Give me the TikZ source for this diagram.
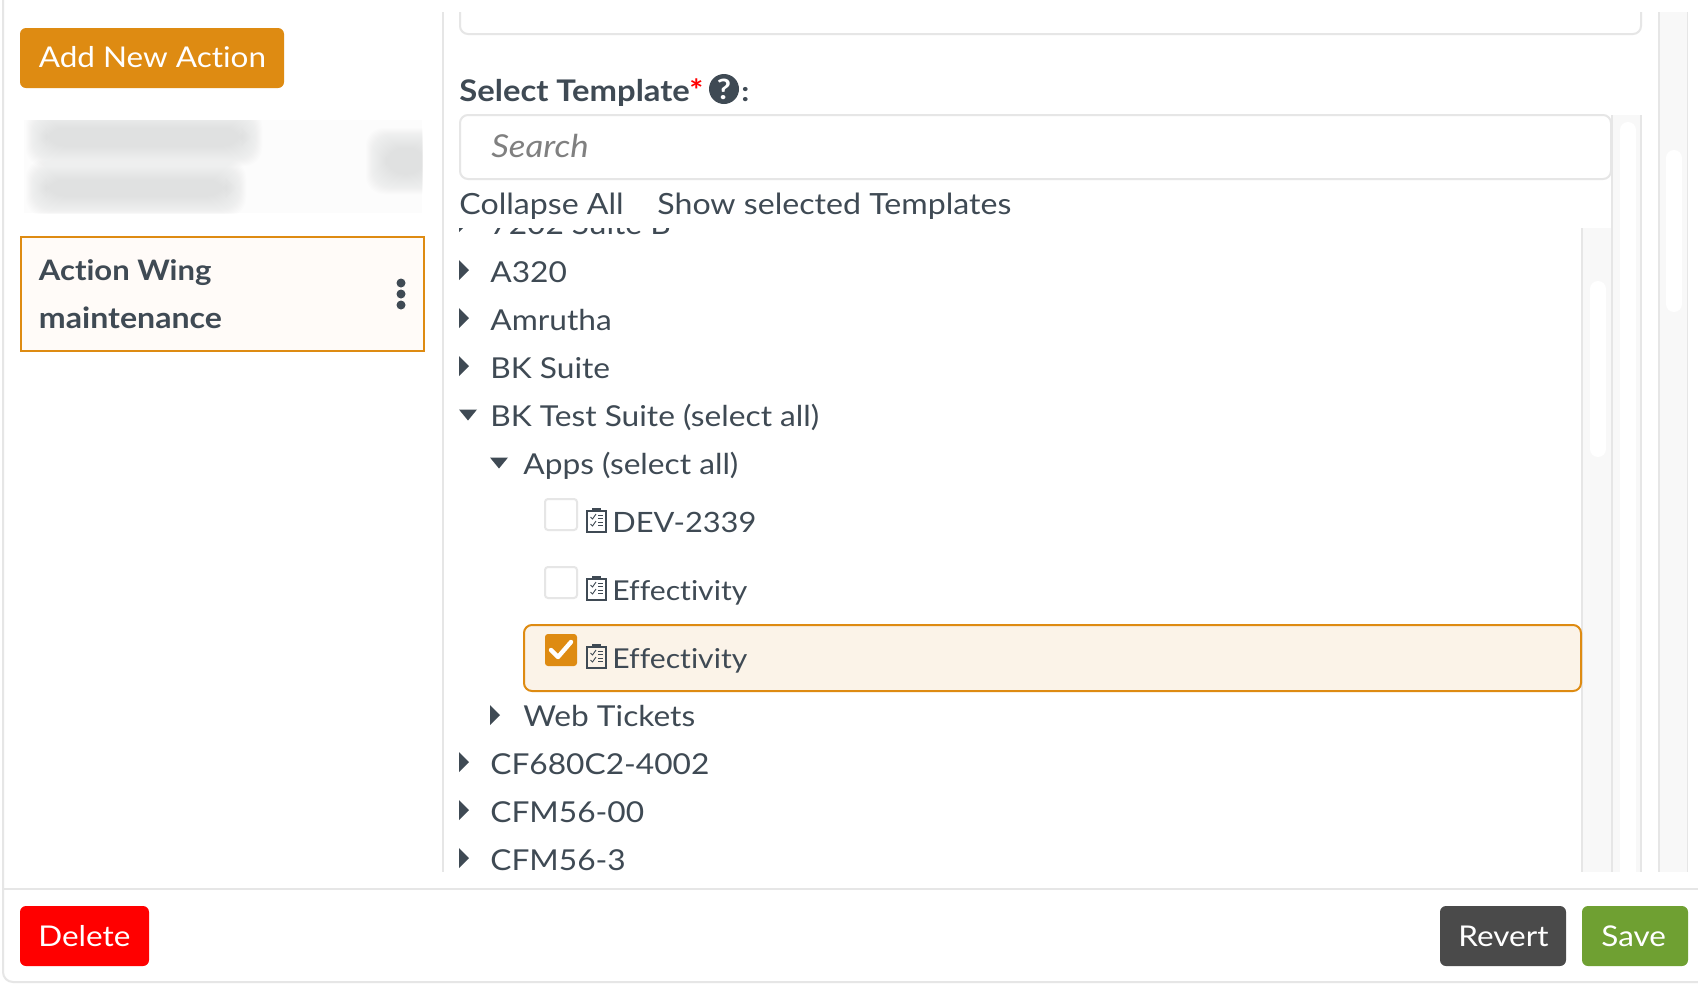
\documentclass[tikz,border=0pt]{standalone}
\usepackage{fontspec}
\setmainfont{Lato}[FakeStretch=1.10,Ligatures=NoCommon]
\usetikzlibrary{positioning}
\definecolor{inkgrey}{HTML}{3F4A54}
\definecolor{amber}{HTML}{DE8B12}
\definecolor{rulegrey}{HTML}{E6E6E6}
\definecolor{trackgrey}{HTML}{F8F8F8}
\definecolor{paleamber}{HTML}{FBF3E8}
\definecolor{palecard}{HTML}{FFFBF8}
\definecolor{revertgrey}{HTML}{4A4A4A}
\definecolor{savegreen}{HTML}{6FA032}
\definecolor{blurgrey}{HTML}{DCDEDE}
\tikzset{
  uitext/.style={anchor=base west,inner sep=0pt,text=inkgrey,font=\fontsize{14.4}{16}\selectfont},
  boldtext/.style={uitext,font=\fontsize{14.1}{16}\selectfont\bfseries},
  btntext/.style={uitext,text=white,font=\fontsize{14.3}{16}\selectfont},
  btnbox/.style={rounded corners=3pt},
  rule/.style={draw=rulegrey,line width=1pt},
  track/.style={fill=trackgrey},
  thumb/.style={fill=white,rounded corners=4pt},
  checkbox/.style={draw=rulegrey,line width=1pt,rounded corners=1.5pt,fill=white},
}
% one row of the tree: arrow drawn separately
\newcommand{\arrowright}[2]{\fill[inkgrey] (#1,#2-10) -- (#1+10,#2) -- (#1,#2+10) -- cycle;}
\newcommand{\arrowdown}[2]{\fill[inkgrey] (#1,#2-5.5) -- (#1+18,#2-5.5) -- (#1+9,#2+5.5) -- cycle;}
% clipboard icon
\newcommand{\clipicon}[2]{
  \draw[inkgrey,line width=0.6pt] (#1,#2+3) rectangle (#1+19,#2+24);
  \fill[inkgrey] (#1+5,#2) rectangle (#1+14,#2+3.5);
  \foreach \iy in {9,16}{
    \draw[inkgrey,line width=0.45pt] (#1+3.5,#2+\iy) -- (#1+5.5,#2+\iy+2) -- (#1+9,#2+\iy-3);
    \draw[inkgrey,line width=0.45pt] (#1+11,#2+\iy-2) -- (#1+16,#2+\iy-2) (#1+11,#2+\iy+1) -- (#1+16,#2+\iy+1);
  }
}
% soft blob for the blurred entry
\newcommand{\blurblob}[4]{
  \foreach \i in {0,...,20}{
    \fill[blurgrey,opacity=0.05,rounded corners=9pt] (#1+\i,#2+\i) rectangle (#3-\i,#4-\i);
  }
}
\begin{document}
\begin{tikzpicture}[x=0.5pt,y=-0.5pt]
  \useasboundingbox (0,0) rectangle (1698,992);
  \fill[white] (0,0) rectangle (1698,992);
  % frame
  \draw[rule,rounded corners=5pt] (3,-5) -- (3,982) -- (1703,982);
  \draw[rule] (3,889) -- (1698,889);
  \draw[rule] (443,12) -- (443,872);
  % scrollbars
  \fill[track] (1659,12) rectangle (1687,872);
  \draw[rule] (1659,12) -- (1659,872);
  \draw[draw=rulegrey,line width=0.5pt] (1687,12) -- (1687,872);
  \fill[thumb] (1666,150) rectangle (1682,312);
  \fill[track] (1612,115) rectangle (1641,872);
  \draw[rule] (1641,115) -- (1641,872);
  \fill[thumb] (1620,872) -- (1620,122) -- (1636,122) -- (1636,872);
  \fill[track] (1582,228) rectangle (1612,872);
  \draw[rule] (1582,228) -- (1582,872) (1612,115) -- (1612,872);
  \fill[thumb] (1590,281) rectangle (1606,457);
  % left column
  \fill[amber,btnbox] (20,28) rectangle (284,88);
  \node[btntext] (addaction) at (38.5,67) {Add New Action};
  \begin{scope}
    \clip (24,120) rectangle (422,213);
    \fill[white!99!black] (24,120) rectangle (422,213);
    \blurblob{26}{108}{262}{166}
    \blurblob{26}{160}{246}{216}
    \blurblob{366}{128}{446}{194}
  \end{scope}
  \draw[amber,line width=1pt,fill=palecard] (20.5,237) rectangle (424,351);
  \node[boldtext] (wingtitle) at (38.5,280) {Action Wing};
  \node[boldtext,font=\fontsize{14.6}{16}\selectfont\bfseries] (wingsub) at (38.5,328) {maintenance};
  \foreach \dy in {283,294,305}
    \fill[inkgrey] (401,\dy) circle[radius=4.5];
  % template form
  \draw[rule,rounded corners=4pt] (460,5) -- (460,34) -- (1641,34) -- (1641,5);
  \fill[white] (450,0) rectangle (1650,12);
  \node[boldtext,font=\fontsize{14.9}{16}\selectfont\bfseries] (seltitle) at (459,101) {Select Template};
  \node[uitext,text=red,font=\fontsize{15}{16}\selectfont\bfseries] (selstar) at (689,101) {*};
  \fill[inkgrey] (724,89) circle[radius=15];
  \node[anchor=center,inner sep=0pt,text=white,font=\fontsize{14}{14}\selectfont\bfseries] (selhelp) at (724,89) {?};
  \node[boldtext] (selcolon) at (741,101) {:};
  \draw[rule,rounded corners=4pt,fill=white] (460,115) rectangle (1611,179);
  \node[uitext,text=gray,font=\fontsize{15.8}{16}\selectfont\itshape] (searchtext) at (491,157) {Search};
  \node[uitext,font=\fontsize{14.6}{16}\selectfont] (collapse) at (459,214) {Collapse All};
  \node[uitext,font=\fontsize{14.6}{16}\selectfont] (showsel) at (657,214) {Show selected Templates};
  % tree
  \begin{scope}
    \clip (450,228) rectangle (1582,880);
    \node[uitext] (t0) at (490,234) {7202 Suite B};
    \arrowright{459}{222}
    \foreach \rowy/\rowname/\rowtext in {282/a/A320,330/b/Amrutha,378/c/BK Suite,774/d/CF680C2-4002,822/e/CFM56-00,870/f/CFM56-3}{
      \arrowright{459}{\rowy-12}
      \node[uitext] (t\rowname) at (490,\rowy) {\rowtext};
    }
    \arrowdown{459}{415}
    \node[uitext] (tsuite) at (490,426) {BK Test Suite (select all)};
    \arrowdown{490}{463}
    \node[uitext] (tapps) at (523,474) {Apps (select all)};
    \draw[amber,line width=1pt,fill=paleamber,rounded corners=4pt] (524,625) rectangle (1581,691);
    \draw[checkbox] (545,499) rectangle (577,530);
    \draw[checkbox] (545,567) rectangle (577,598);
    \fill[amber,rounded corners=1.5pt] (545,634) rectangle (577,666);
    \draw[white,line width=2.2pt,line cap=round,line join=round] (551,650) -- (558,657) -- (571,642);
    \clipicon{587}{508}
    \clipicon{587}{576}
    \clipicon{587}{644}
    \node[uitext,font=\fontsize{14}{16}\selectfont] (tdev) at (612,532) {DEV-2339};
    \node[uitext,font=\fontsize{13.7}{16}\selectfont] (teffa) at (612,600) {Effectivity};
    \node[uitext,font=\fontsize{13.7}{16}\selectfont] (teffb) at (612,668) {Effectivity};
    \arrowright{490}{715}
    \node[uitext] (tweb) at (523,726) {Web Tickets};
  \end{scope}
  % footer
  \fill[red,btnbox] (20,906) rectangle (149,966);
  \node[btntext] (delete) at (38,946) {Delete};
  \fill[revertgrey,btnbox] (1440,906) rectangle (1566,966);
  \node[btntext] (revert) at (1458,946) {Revert};
  \fill[savegreen,btnbox] (1582,906) rectangle (1688,966);
  \node[btntext] (save) at (1601,946) {Save};
\end{tikzpicture}
\end{document}
